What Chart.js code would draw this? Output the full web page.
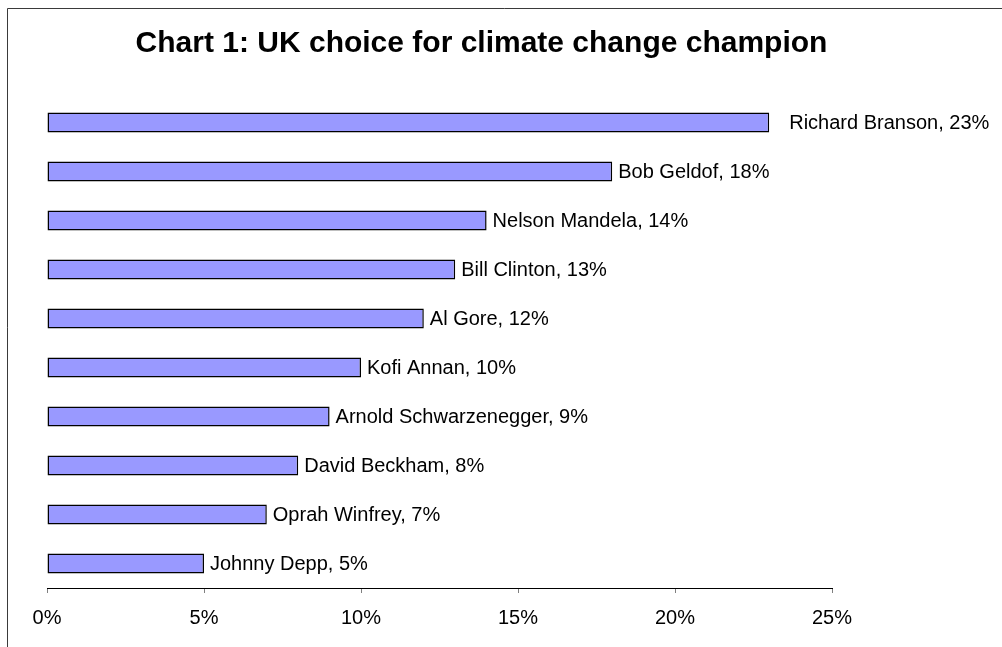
<!DOCTYPE html>
<html>
<head>
<meta charset="utf-8">
<script src="https://cdn.jsdelivr.net/npm/chart.js@4/dist/chart.umd.min.js"></script>
<style>
  html, body { margin: 0; padding: 0; background: #fff; }
  #wrap { position: relative; width: 1002px; height: 647px; }
</style>
</head>
<body>
<div id="wrap"><canvas id="c" width="1002" height="647"></canvas></div>
<script>
const titleText = 'Chart 1: UK choice for climate change champion';
const names = ['Richard Branson', 'Bob Geldof', 'Nelson Mandela', 'Bill Clinton', 'Al Gore',
               'Kofi Annan', 'Arnold Schwarzenegger', 'David Beckham', 'Oprah Winfrey', 'Johnny Depp'];
const shares = [23, 18, 14, 13, 12, 10, 9, 8, 7, 5];
const xTicks = [0, 5, 10, 15, 20, 25];

const FONT = '"Liberation Sans", Arial, Helvetica, sans-serif';

const framePlugin = {
  id: 'frame',
  beforeDraw(chart) {
    const ctx = chart.ctx;
    ctx.save();
    ctx.fillStyle = '#fff';
    ctx.fillRect(0, 0, chart.width, chart.height);
    ctx.strokeStyle = '#3a3a3a';
    ctx.lineWidth = 1;
    ctx.beginPath();
    ctx.moveTo(7.5, chart.height);
    ctx.lineTo(7.5, 8.5);
    ctx.lineTo(chart.width, 8.5);
    ctx.stroke();
    ctx.restore();
  },
  afterDraw(chart) {
    const ctx = chart.ctx;
    ctx.save();
    ctx.fillStyle = '#000';
    ctx.font = 'bold 30px ' + FONT;
    ctx.textAlign = 'center';
    ctx.textBaseline = 'alphabetic';
    ctx.fillText(titleText, 481.5, 52);
    ctx.restore();
  }
};

const labelPlugin = {
  id: 'barLabels',
  afterDatasetsDraw(chart) {
    const ctx = chart.ctx;
    const meta = chart.getDatasetMeta(0);
    ctx.save();
    ctx.fillStyle = '#000';
    ctx.font = '20px ' + FONT;
    ctx.textAlign = 'left';
    ctx.textBaseline = 'middle';
    meta.data.forEach((bar, i) => {
      const offset = i === 0 ? 20 : 6;
      ctx.fillText(names[i] + ', ' + shares[i] + '%', bar.x + offset, bar.y + 1);
    });
    ctx.restore();
  }
};

new Chart(document.getElementById('c'), {
  type: 'bar',
  data: {
    labels: names,
    datasets: [{
      data: shares,
      backgroundColor: '#9999FF',
      borderColor: '#000000',
      borderWidth: 1.5,
      borderSkipped: false,
      categoryPercentage: 1,
      barPercentage: 0.41
    }]
  },
  options: {
    indexAxis: 'y',
    responsive: false,
    animation: false,
    devicePixelRatio: 1,
    layout: { padding: { left: 47, right: 170, top: 98, bottom: 4 } },
    plugins: {
      legend: { display: false },
      title: { display: false },
      tooltip: { enabled: false }
    },
    scales: {
      y: { display: false },
      x: {
        min: 0,
        max: 25,
        afterBuildTicks(scale) { scale.ticks = xTicks.map(v => ({ value: v })); },
        ticks: {
          color: '#000',
          font: { family: FONT, size: 20 },
          padding: 13,
          callback: v => v + '%'
        },
        grid: { drawOnChartArea: false, drawTicks: true, tickLength: 5, color: '#808080' },
        border: { display: true, color: '#000', width: 1 }
      }
    }
  },
  plugins: [framePlugin, labelPlugin]
});
</script>
</body>
</html>
